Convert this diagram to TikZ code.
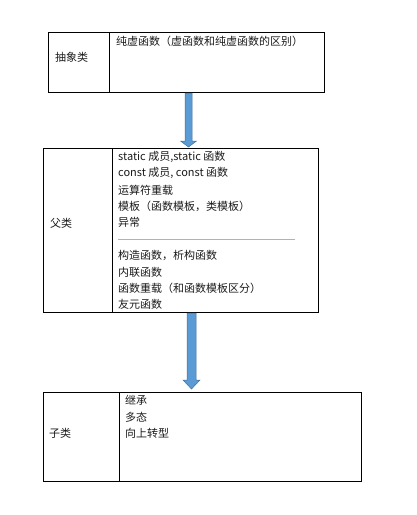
\documentclass[tikz,border=0pt]{standalone}
\usepackage{fontspec}
\setmainfont{Noto Sans CJK SC}
\usetikzlibrary{calc}
\definecolor{arrowblue}{HTML}{5B9BD5}
\definecolor{arrowedge}{HTML}{41719C}
\definecolor{txt}{HTML}{1A1A1A}
\begin{document}
\begin{tikzpicture}[x=1pt,y=-1pt,
  box/.style={draw=black,line width=1pt,inner sep=0pt,outer sep=0pt,anchor=north west},
  lbl/.style={anchor=west,inner sep=0pt,font=\fontsize{11pt}{13pt}\selectfont,text=txt},
  bigarrow/.style={fill=arrowblue,draw=arrowedge,line width=0.5pt}]
\useasboundingbox (0,0) rectangle (417,515);
% box 1
\node[box,minimum width=276pt,minimum height=60pt] (b1) at (48,32) {};
\draw[line width=1pt] (109,32) -- (109,92);
\node[lbl] (t1a) at (55,57) {抽象类};
\node[lbl] (t1b) at (116,41) {纯虚函数（虚函数和纯虚函数的区别）};
% box 2
\node[box,minimum width=275pt,minimum height=164pt] (b2) at (43,148) {};
\draw[line width=1pt] (112,148) -- (112,312);
\node[lbl] (t2a) at (50,223) {父类};
\node[lbl] (l1) at (118,157) {static 成员,static 函数};
\node[lbl] (l2) at (118,173) {const 成员, const 函数};
\node[lbl] (l3) at (118,190) {运算符重载};
\node[lbl] (l4) at (118,206) {模板（函数模板，类模板）};
\node[lbl] (l5) at (118,222) {异常};
\coordinate (sepA) at (118,239);
\coordinate (sepB) at (295,239);
\draw[gray!60,line width=0.5pt] (sepA) -- (sepB);
\node[lbl] (l6) at (118,255) {构造函数，析构函数};
\node[lbl] (l7) at (118,272) {内联函数};
\node[lbl] (l8) at (118,288) {函数重载（和函数模板区分）};
\node[lbl] (l9) at (118,304) {友元函数};
% box 3
\node[box,minimum width=318pt,minimum height=89pt] (b3) at (43,392) {};
\draw[line width=1pt] (119,392) -- (119,481);
\node[lbl] (t3a) at (49,433) {子类};
\node[lbl] (m1) at (125,400) {继承};
\node[lbl] (m2) at (125,417) {多态};
\node[lbl] (m3) at (125,433) {向上转型};
% arrow 1
\coordinate (a1s) at (188.5,93);
\coordinate (a1e) at (188.5,147);
\draw[bigarrow] ($(a1s)+(-3.5,0)$) -- ($(a1s)+(3.5,0)$) -- ($(a1e)+(3.5,-6)$) -- ($(a1e)+(8,-6)$) -- (a1e) -- ($(a1e)+(-8,-6)$) -- ($(a1e)+(-3.5,-6)$) -- cycle;
% arrow 2
\coordinate (a2s) at (191.5,313);
\coordinate (a2e) at (191.5,389);
\draw[bigarrow] ($(a2s)+(-4.5,0)$) -- ($(a2s)+(4.5,0)$) -- ($(a2e)+(4.5,-9)$) -- ($(a2e)+(8.5,-9)$) -- (a2e) -- ($(a2e)+(-8.5,-9)$) -- ($(a2e)+(-4.5,-9)$) -- cycle;
\end{tikzpicture}
\end{document}
